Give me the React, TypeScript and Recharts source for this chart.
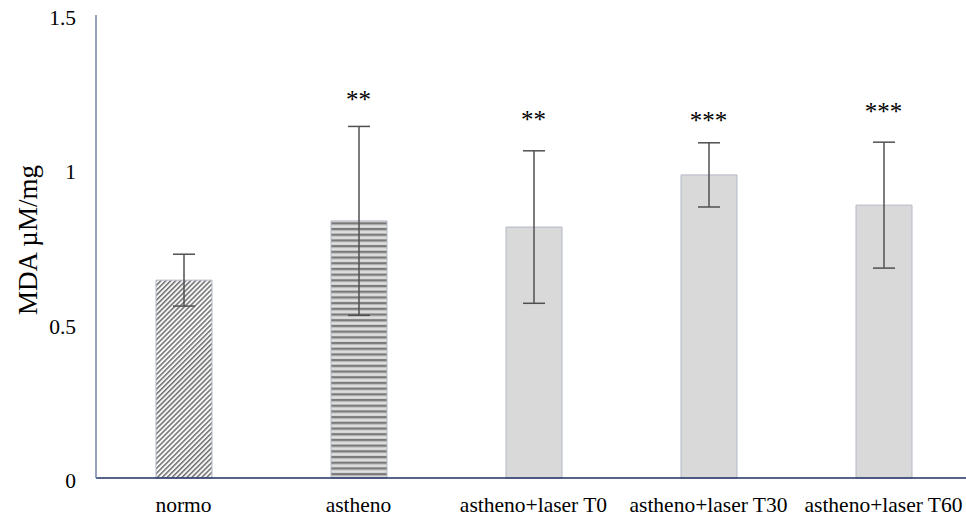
import React from 'react';
import { ComposedChart, Bar, XAxis, YAxis, ErrorBar, Cell, Line, LabelList } from 'recharts';

const categories = ['normo', 'astheno', 'astheno+laser T0', 'astheno+laser T30', 'astheno+laser T60'];
const means = [0.641, 0.833, 0.813, 0.982, 0.884];
const sds = [0.084, 0.306, 0.247, 0.104, 0.204];
const significance = ['', '**', '**', '***', '***'];
const starLevels = [null, 1.236, 1.172, 1.169, 1.199];
const yTicks = [0, 0.5, 1, 1.5];
const fills = ['url(#hatch)', 'url(#stripes)', '#d9d9d9', '#d9d9d9', '#d9d9d9'];

const data = categories.map((name, i) => ({
  name,
  mean: means[i],
  sd: sds[i],
  sig: significance[i],
  star: starLevels[i],
}));

const FONT = '"Liberation Serif", "Times New Roman", serif';

const StarLabel = (props: any) => {
  const { x, y, value } = props;
  if (!value || x == null || y == null) return null;
  return (
    <text x={x} y={y + 12} textAnchor="middle" fontFamily={FONT} fontSize={25} fill="#000">
      {value}
    </text>
  );
};

const XTick = (props: any) => {
  const { x, y, payload } = props;
  return (
    <text x={x} y={y + 34} textAnchor="middle" fontFamily={FONT} fontSize={21.5} fill="#000">
      {payload.value}
    </text>
  );
};

const YTick = (props: any) => {
  const { x, y, payload } = props;
  return (
    <text x={x} y={y + 10} textAnchor="end" fontFamily={FONT} fontSize={21.5} fill="#000">
      {String(payload.value)}
    </text>
  );
};

const YLabel = () => (
  <text
    x={37}
    y={240}
    transform="rotate(-90 37 240)"
    textAnchor="middle"
    fontFamily={FONT}
    fontSize={27}
    fill="#000"
  >
    MDA µM/mg
  </text>
);

export default function App() {
  return (
    <div style={{ position: 'absolute', left: 0, top: 0, width: 966, height: 516, overflow: 'hidden', background: '#fff' }}>
      <ComposedChart width={975} height={516} data={data} margin={{ top: 15, right: 4, bottom: 0, left: 0 }}>
        <defs>
          <pattern id="hatch" patternUnits="userSpaceOnUse" width="3.5" height="3.5" patternTransform="rotate(45)">
            <rect width="3.5" height="3.5" fill="#fafafa" />
            <line x1="0.8" y1="0" x2="0.8" y2="3.5" stroke="#3a3a3a" strokeWidth="1.1" />
          </pattern>
          <pattern id="stripes" patternUnits="userSpaceOnUse" width="6" height="5.7">
            <rect width="6" height="5.7" fill="#d2d2d2" />
            <rect y="0" width="6" height="2.2" fill="#7a7a7a" />
            <rect y="3.6" width="6" height="0.8" fill="#ececec" />
          </pattern>
        </defs>
        <XAxis
          dataKey="name"
          height={38}
          axisLine={{ stroke: '#1f2f60', strokeWidth: 1.5 }}
          tickLine={false}
          tickSize={0}
          tickMargin={0}
          interval={0}
          tick={<XTick />}
        />
        <YAxis
          width={96}
          domain={[0, 1.5]}
          ticks={yTicks}
          axisLine={{ stroke: '#7585a8', strokeWidth: 1.5 }}
          tickLine={false}
          tickSize={0}
          tickMargin={20}
          tick={<YTick />}
          label={<YLabel />}
        />
        <Bar dataKey="mean" barSize={56} stroke="#b4b8c8" strokeWidth={1} isAnimationActive={false}>
          {data.map((d, i) => (
            <Cell key={d.name} fill={fills[i]} />
          ))}
          <ErrorBar dataKey="sd" width={11} stroke="#505050" strokeWidth={1.5} />
        </Bar>
        <Line
          dataKey="star"
          stroke="none"
          dot={false}
          activeDot={false}
          legendType="none"
          isAnimationActive={false}
        >
          <LabelList dataKey="sig" content={StarLabel} />
        </Line>
      </ComposedChart>
    </div>
  );
}
